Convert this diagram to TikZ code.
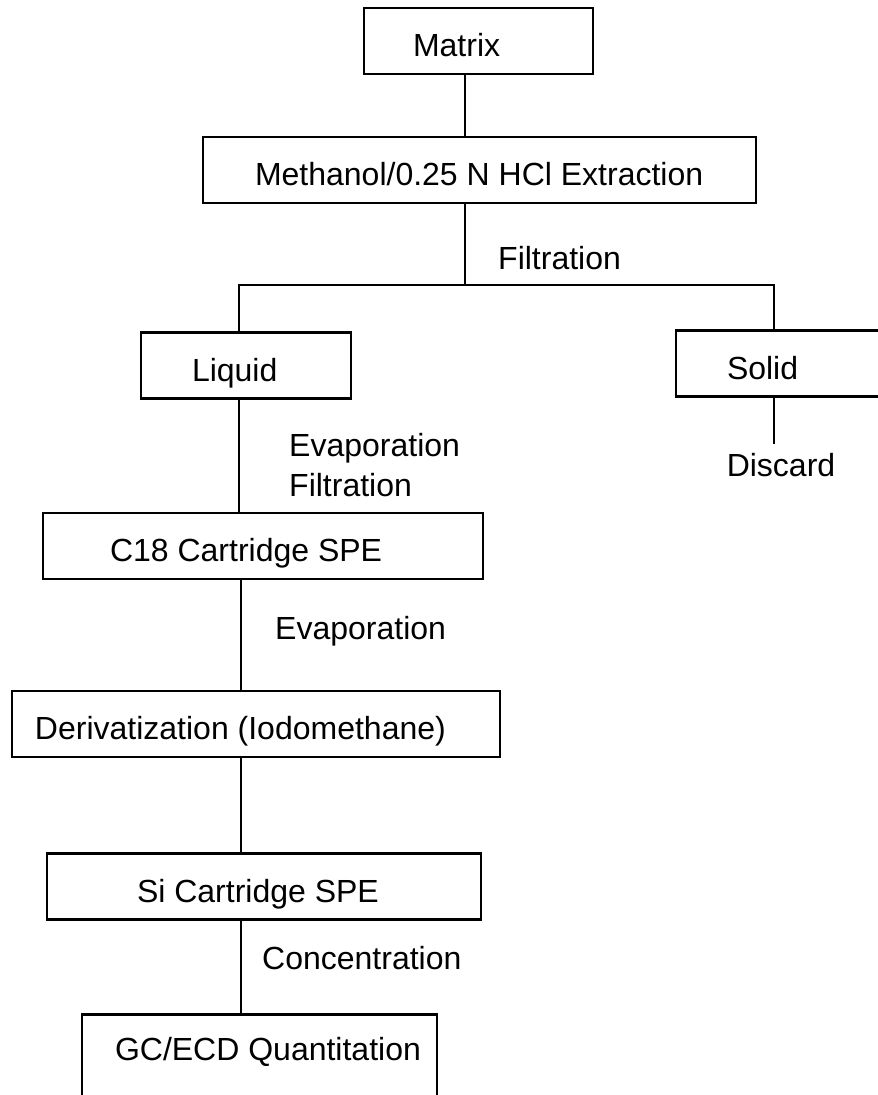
\documentclass[tikz,border=0pt]{standalone}
\usepackage{fontspec}
\setmainfont{Liberation Sans}

% box content: total width, left pad, text
\newcommand{\padtext}[3]{\makebox[#1pt][l]{\hspace*{#2pt}#3}}

\begin{document}
\begin{tikzpicture}[x=1pt, y=-1pt,
  every node/.style={font=\fontsize{32}{38}\selectfont},
  stage/.style={draw, line width=2.9pt, inner xsep=0pt, inner ysep=0pt,
    minimum height=66pt, text height=31pt, text depth=0pt},
  steplabel/.style={anchor=west, inner sep=0pt, text height=23pt, text depth=0pt},
  link/.style={line width=2.4pt}]
  \useasboundingbox (0,0) rectangle (878,1095);
  \clip (0,0) rectangle (878,1095);

  % Stages
  \node[stage] (matrix)   at (478.5,41)  {\padtext{229}{49}{Matrix}};
  \node[stage] (methanol) at (479.5,170) {\padtext{553}{52}{Methanol/0.25 N HCl Extraction}};
  \node[stage] (liquid)   at (246,365.5) {\padtext{210}{51}{Liquid}};
  \node[stage] (solid)    at (788,363.5) {\padtext{224}{51}{Solid}};
  \node[stage] (c18)      at (263,546)   {\padtext{440}{67}{C18 Cartridge SPE}};
  \node[stage] (deriv)    at (256,724)   {\padtext{488}{23}{Derivatization (Iodomethane)}};
  \node[stage] (si)       at (264,886.5) {\padtext{434}{90}{Si Cartridge SPE}};
  \node[stage, anchor=north, text height=46pt, text depth=60pt] (gc) at (259.5,1013)
    {\padtext{355}{33}{GC/ECD Quantitation}};
  \node[inner sep=2pt, text height=23pt, text depth=0pt] (discard) at (781,465) {Discard};

  % Junctions
  \coordinate (split) at (465,285);
  \coordinate (lx) at (239,285);
  \coordinate (sx) at (774,285);
  \coordinate (spine) at (241,0);

  % Connectors
  \draw[link] (matrix.south -| split) -- (methanol.north -| split);
  \draw[link] (methanol.south -| split) -- (split);
  \draw[link] (liquid.north -| lx) -- (lx) -- (sx) -- (solid.north -| sx);
  \draw[link, shorten >=7pt] (solid.south -| sx) -- (discard.north -| sx);
  \draw[link] (liquid.south -| lx) -- (c18.north -| lx);
  \draw[link] (c18.south -| spine) -- (deriv.north -| spine);
  \draw[link] (deriv.south -| spine) -- (si.north -| spine);
  \draw[link] (si.south -| spine) -- (gc.north -| spine);

  % Step labels
  \node[steplabel] (filtA) at (498,258) {Filtration};
  \node[steplabel] (evapA) at (289,445) {Evaporation};
  \node[steplabel] (filtB) at (289,485) {Filtration};
  \node[steplabel] (evapB) at (275,628) {Evaporation};
  \node[steplabel] (conc)  at (262,958) {Concentration};

\end{tikzpicture}
\end{document}
